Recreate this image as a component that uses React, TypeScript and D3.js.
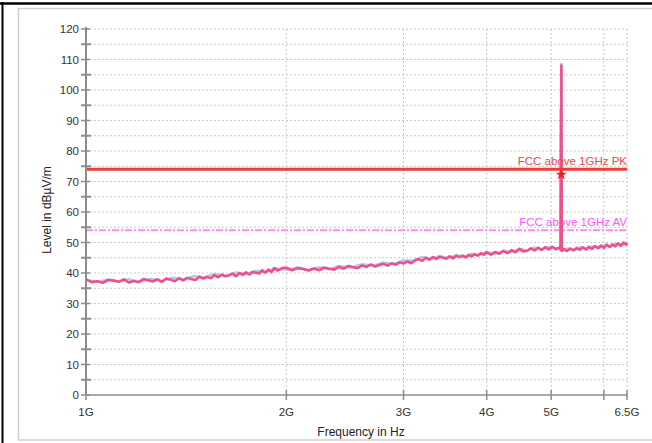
import React from "react";
import * as d3 from "d3";

// ---------- data ----------
const peakFreqGHz = [
  1.00, 1.02, 1.04, 1.06, 1.08, 1.10, 1.12, 1.14, 1.16, 1.18, 1.20, 1.22, 1.24, 1.26, 1.28, 1.30, 1.32, 1.34, 1.36, 1.38,
  1.40, 1.42, 1.44, 1.46, 1.48, 1.50, 1.52, 1.54, 1.56, 1.58, 1.60, 1.62, 1.64, 1.66, 1.68, 1.70, 1.72, 1.74, 1.76, 1.78,
  1.80, 1.82, 1.84, 1.86, 1.88, 1.90, 1.92, 1.94, 1.96, 1.98,
  2.00, 2.04, 2.08, 2.12, 2.16, 2.20, 2.24, 2.28, 2.32, 2.36, 2.40, 2.44, 2.48, 2.52, 2.56, 2.60, 2.64, 2.68, 2.72, 2.76,
  2.80, 2.84, 2.88, 2.92, 2.96, 3.00, 3.04, 3.08, 3.12, 3.16, 3.20, 3.24, 3.28, 3.32, 3.36, 3.40, 3.44, 3.48, 3.52, 3.56,
  3.60, 3.64, 3.68, 3.72, 3.76, 3.80, 3.84, 3.88, 3.92, 3.96,
  4.00, 4.06, 4.12, 4.18, 4.24, 4.30, 4.36, 4.42, 4.48, 4.54, 4.60, 4.66, 4.72, 4.78, 4.84, 4.90, 4.96, 5.02, 5.08, 5.14,
  5.165, 5.172, 5.176, 5.18, 5.186, 5.19,
  5.22, 5.28, 5.34, 5.40, 5.46, 5.52, 5.58, 5.64, 5.70, 5.76, 5.82, 5.88, 5.94, 6.00, 6.06, 6.12, 6.18, 6.24, 6.30, 6.36,
  6.42, 6.48, 6.50,
];
const peakLevel = [
  37.9, 37.0, 37.3, 36.8, 37.7, 37.5, 37.1, 37.9, 36.9, 37.4, 37.0, 38.0, 37.6, 37.2, 37.9, 37.1, 38.2, 37.8, 37.3, 38.3,
  37.6, 38.4, 38.0, 37.7, 38.8, 38.2, 38.7, 38.3, 39.3, 38.6, 39.5, 38.9, 39.2, 39.8, 38.9, 40.0, 39.4, 40.2, 39.5, 40.3,
  40.1, 39.8, 40.9, 40.1, 41.1, 40.3, 41.6, 40.8, 41.3, 41.7,
  41.7, 40.9, 41.6, 41.3, 40.8, 41.5, 40.9, 41.8, 41.4, 41.1, 42.0, 41.4, 42.3, 41.9, 41.6, 42.5, 42.0, 42.8, 42.1, 42.6,
  43.0, 42.4, 43.2, 42.7, 43.5, 43.1, 43.8, 43.2, 44.1, 44.6, 44.0, 45.0, 44.4, 45.2, 44.6, 45.3, 45.0, 44.7, 45.5, 44.8,
  45.6, 45.2, 45.7, 45.1, 45.9, 45.5, 46.1, 45.7, 46.5, 46.0,
  46.8, 46.0, 46.9, 46.3, 47.2, 46.5, 47.5, 46.8, 47.9, 47.1, 47.3, 48.1, 47.4, 48.3, 47.6, 48.5, 47.7, 48.6, 47.8, 48.3,
  47.6, 94.0, 48.5, 108.0, 47.3, 47.2,
  47.9, 47.2, 48.0, 47.4, 48.2, 47.6, 48.4, 47.7, 48.6, 47.9, 48.8, 48.1, 49.0, 48.2, 49.3, 48.5, 49.4, 48.7, 49.7, 48.9,
  50.0, 49.3, 49.9,
];

const avgFreqGHz = [
  1.00, 1.04, 1.08, 1.12, 1.16, 1.20, 1.25, 1.30, 1.35, 1.40, 1.45, 1.50, 1.56, 1.62, 1.68, 1.74, 1.80, 1.86, 1.92, 2.00,
  2.08, 2.16, 2.24, 2.32, 2.40, 2.50, 2.60, 2.70, 2.80, 2.90, 3.00, 3.10, 3.20, 3.30, 3.40, 3.50, 3.60, 3.70, 3.80, 3.90,
  4.00, 4.12, 4.24, 4.36, 4.48, 4.60, 4.72, 4.84, 4.96, 5.08, 5.16, 5.175, 5.18, 5.185, 5.20, 5.30, 5.42, 5.54, 5.66, 5.78,
  5.90, 6.02, 6.14, 6.26, 6.38, 6.50,
];
const avgLevel = [
  37.8, 37.0, 37.9, 37.2, 38.0, 37.1, 38.1, 37.4, 38.5, 37.9, 39.0, 38.5, 39.7, 39.0, 40.2, 39.6, 40.8, 40.3, 41.6, 41.0,
  41.8, 40.9, 41.9, 41.2, 42.3, 41.8, 42.9, 42.4, 43.5, 43.0, 44.1, 44.0, 45.3, 44.6, 45.6, 44.9, 45.9, 45.2, 46.4, 45.8,
  46.9, 46.2, 47.4, 46.8, 48.0, 47.3, 48.4, 47.6, 48.6, 47.9, 48.4, 92.0, 108.6, 47.8, 47.4, 48.1, 47.5, 48.5, 47.9, 48.8,
  48.3, 49.2, 48.7, 49.6, 49.2, 50.0,
];

const limitNames = ["FCC above 1GHz PK", "FCC above 1GHz AV"];
const limitLevels = [74, 54];

const markerFreqGHz = [5.178];
const markerLevel = [72.3];

const xTickValues = [1, 2, 3, 4, 5, 6, 6.5];
const xTickLabels = ["1G", "2G", "3G", "4G", "5G", "", "6.5G"];
const xGridValues = [2, 3, 4, 5, 6, 6.5];
const yMajorTicks = [0, 10, 20, 30, 40, 50, 60, 70, 80, 90, 100, 110, 120];
const yMinorTicks = [5, 15, 25, 35, 45, 55, 65, 75, 85, 95, 105, 115];

// ---------- layout ----------
const W = 652;
const H = 443;
const L = 86;
const R = 627;
const T = 29;
const B = 395;
const FONT = "Arial, 'Liberation Sans', sans-serif";

export default function App() {
  const x = d3.scaleLog().domain([1, 6.5]).range([L, R]);
  const y = d3.scaleLinear().domain([0, 120]).range([B, T]);

  const line = d3
    .line<[number, number]>()
    .x((d) => x(d[0]))
    .y((d) => y(d[1]));

  const peakPts = peakFreqGHz.map((f, i) => [f, peakLevel[i]] as [number, number]);
  const avgPts = avgFreqGHz.map((f, i) => [f, avgLevel[i]] as [number, number]);

  const star = d3.symbol().type(d3.symbolStar).size(40)();

  const gridY = [...yMajorTicks, ...yMinorTicks].filter((v) => v > 0);

  return (
    <svg
      width={W}
      height={H}
      style={{ position: "absolute", left: 0, top: 0, background: "#fff" }}
      fontFamily={FONT}
    >
      {/* outer frame */}
      <rect x={0} y={0} width={W} height={H} fill="#fff" />
      <line x1={0} x2={W} y1={3.5} y2={3.5} stroke="#000" strokeWidth={2.5} />
      <line x1={2.5} x2={2.5} y1={2} y2={H} stroke="#000" strokeWidth={2} />
      <rect x={18.5} y={8.5} width={660} height={431.5} fill="#fff" stroke="#cfcfcf" strokeWidth={1.5} />

      {/* grid */}
      {gridY.map((v) => (
        <line
          key={"gy" + v}
          x1={L}
          x2={R}
          y1={y(v)}
          y2={y(v)}
          stroke="#c8c8c8"
          strokeWidth={1}
          strokeDasharray="2,2"
        />
      ))}
      {xGridValues.map((v) => (
        <line
          key={"gx" + v}
          x1={x(v)}
          x2={x(v)}
          y1={T}
          y2={B}
          stroke="#c8c8c8"
          strokeWidth={1}
          strokeDasharray="2,2"
        />
      ))}

      {/* limit lines */}
      <line
        x1={L}
        x2={R}
        y1={y(limitLevels[1])}
        y2={y(limitLevels[1])}
        stroke="#ff88ff"
        strokeWidth={2}
        strokeDasharray="7,2,2,2"
      />
      <text
        x={R}
        y={y(limitLevels[1]) - 4}
        textAnchor="end"
        fontSize={11.5}
        fill="#ff55ff"
      >
        {limitNames[1]}
      </text>

      {/* traces */}
      <path d={line(avgPts) || ""} fill="none" stroke="#a9cdf2" strokeWidth={2.4} strokeLinejoin="round" />
      <path d={line(peakPts) || ""} fill="none" stroke="#f0508a" strokeWidth={2.6} strokeLinejoin="round" />

      <line
        x1={L}
        x2={R}
        y1={y(limitLevels[0])}
        y2={y(limitLevels[0])}
        stroke="#f03c3c"
        strokeWidth={3}
      />
      <text
        x={R}
        y={y(limitLevels[0]) - 4}
        textAnchor="end"
        fontSize={11.5}
        fill="#f04848"
      >
        {limitNames[0]}
      </text>

      {/* marker */}
      {markerFreqGHz.map((f, i) => (
        <path
          key={"m" + i}
          d={star || ""}
          transform={`translate(${x(f)},${y(markerLevel[i])})`}
          fill="#e8202a"
        />
      ))}

      {/* axes */}
      <line x1={L} x2={L} y1={T - 2} y2={B} stroke="#8c8c8c" strokeWidth={2} />
      <line x1={L} x2={R} y1={B} y2={B} stroke="#8c8c8c" strokeWidth={1.5} />
      {yMajorTicks.map((v) => (
        <g key={"ym" + v}>
          <line x1={L - 5} x2={L + 4} y1={y(v)} y2={y(v)} stroke="#8c8c8c" strokeWidth={1.5} />
          <text
            x={L - 7}
            y={y(v)}
            dy="0.35em"
            textAnchor="end"
            fontSize={11.5}
            fill="#333"
          >
            {v}
          </text>
        </g>
      ))}
      {yMinorTicks.map((v) => (
        <line key={"yn" + v} x1={L - 5} x2={L + 5} y1={y(v)} y2={y(v)} stroke="#8c8c8c" strokeWidth={2} />
      ))}
      {xTickValues.map((v, i) => (
        <g key={"xt" + v}>
          <line x1={x(v)} x2={x(v)} y1={B - 5} y2={B + 5} stroke="#8c8c8c" strokeWidth={1.5} />
          {xTickLabels[i] && (
            <text x={x(v)} y={B + 21} textAnchor="middle" fontSize={11.5} fill="#333">
              {xTickLabels[i]}
            </text>
          )}
        </g>
      ))}

      {/* axis titles */}
      <text
        transform={`translate(51,${(T + B) / 2 - 2}) rotate(-90)`}
        textAnchor="middle"
        fontSize={12}
        fill="#222"
      >
        Level in dBµV/m
      </text>
      <text x={361} y={436} textAnchor="middle" fontSize={12} fill="#222">
        Frequency in Hz
      </text>
    </svg>
  );
}
